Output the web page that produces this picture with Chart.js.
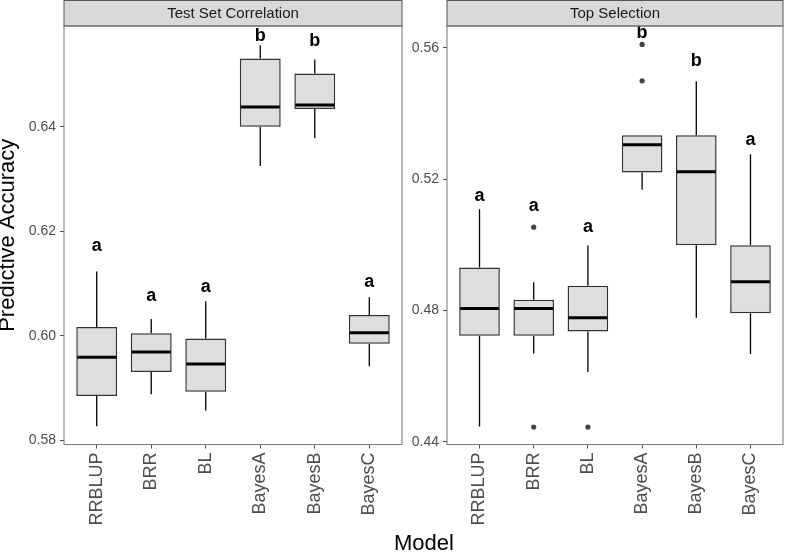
<!DOCTYPE html>
<html>
<head>
<meta charset="utf-8">
<script src="https://cdn.jsdelivr.net/npm/chart.js@4.4.1/dist/chart.umd.min.js"></script>
<style>
  body { margin: 0; background: #fff; font-family: "Liberation Sans", Arial, sans-serif; }
  #page { position: relative; width: 787px; height: 553px; overflow: hidden; }
  #wrap1 { position: absolute; left: 0; top: 0; width: 405px; height: 553px; }
  #wrap2 { position: absolute; left: 405px; top: 0; width: 382px; height: 553px; }
  #xtitle { position: absolute; left: 324px; width: 200px; top: 530px; text-align: center;
            font-size: 22px; line-height: 26px; color: #000; }
</style>
</head>
<body>
<div id="page">
  <div id="wrap1"><canvas id="chart1"></canvas></div>
  <div id="wrap2"><canvas id="chart2"></canvas></div>
  <div id="xtitle">Model</div>
</div>
<script>
// categories (models)
var categories = ["RRBLUP", "BRR", "BL", "BayesA", "BayesB", "BayesC"];

// Test Set Correlation panel
var tscLow  = [0.5827, 0.5888, 0.5857, 0.6325, 0.6378, 0.5942];
var tscQ1   = [0.5885, 0.5931, 0.5893, 0.6400, 0.6434, 0.5985];
var tscMed  = [0.5959, 0.5969, 0.5946, 0.6438, 0.6442, 0.6006];
var tscQ3   = [0.6017, 0.6005, 0.5995, 0.6531, 0.6502, 0.6040];
var tscHigh = [0.6123, 0.6032, 0.6066, 0.6556, 0.6529, 0.6074];
var tscLetters = ["a", "a", "a", "b", "b", "a"];
var tscLetterY = [0.6171, 0.6076, 0.6093, 0.6574, 0.6565, 0.6103];
var tscOutCat = [];
var tscOutY = [];
var tscTicks = [0.58, 0.60, 0.62, 0.64];

// Top Selection panel
var topLow  = [0.4447, 0.4669, 0.4613, 0.5168, 0.4778, 0.4668];
var topQ1   = [0.4723, 0.4723, 0.4736, 0.5221, 0.4999, 0.4792];
var topMed  = [0.4806, 0.4806, 0.4778, 0.5305, 0.5223, 0.4888];
var topQ3   = [0.4931, 0.4833, 0.4876, 0.5334, 0.5334, 0.4999];
var topHigh = [0.5109, 0.4886, 0.4998, 0.5334, 0.5499, 0.5276];
var topLetters = ["a", "a", "a", "b", "b", "a"];
var topLetterY = [0.5150, 0.5117, 0.5054, 0.5645, 0.5559, 0.5321];
var topOutCat = ["BRR", "BRR", "BL", "BayesA", "BayesA"];
var topOutY = [0.5054, 0.4445, 0.4445, 0.5611, 0.5500];
var topTicks = [0.44, 0.48, 0.52, 0.56];

var FONT = '"Liberation Sans", Arial, sans-serif';

// whiskers, medians, letters, strip and panel border
var boxExtras = {
    id: 'boxExtras',
    beforeDatasetsDraw: function(chart) {
        var p = chart.options.plugins.boxExtras;
        var xs = chart.scales.x, ys = chart.scales.y, ctx = chart.ctx;
        ctx.save();
        ctx.strokeStyle = '#000';
        ctx.lineWidth = 1.3;
        for (var i = 0; i < categories.length; i++) {
            var x = xs.getPixelForValue(i + 1);
            ctx.beginPath();
            ctx.moveTo(x, ys.getPixelForValue(p.q3[i]));
            ctx.lineTo(x, ys.getPixelForValue(p.high[i]));
            ctx.moveTo(x, ys.getPixelForValue(p.q1[i]));
            ctx.lineTo(x, ys.getPixelForValue(p.low[i]));
            ctx.stroke();
        }
        ctx.restore();
    },
    afterDatasetsDraw: function(chart) {
        var p = chart.options.plugins.boxExtras;
        var xs = chart.scales.x, ys = chart.scales.y, ctx = chart.ctx;
        var bars = chart.getDatasetMeta(0).data;
        ctx.save();
        for (var i = 0; i < categories.length; i++) {
            var x = xs.getPixelForValue(i + 1);
            var half = bars[i].width / 2;
            var ym = ys.getPixelForValue(p.med[i]);
            ctx.strokeStyle = '#000';
            ctx.lineWidth = 3;
            ctx.beginPath();
            ctx.moveTo(x - half + 1, ym);
            ctx.lineTo(x + half - 1, ym);
            ctx.stroke();
            ctx.fillStyle = '#000';
            ctx.font = 'bold 18px ' + FONT;
            ctx.textAlign = 'center';
            ctx.textBaseline = 'middle';
            ctx.fillText(p.letters[i], x, ys.getPixelForValue(p.letterY[i]));
        }
        ctx.restore();
    },
    afterDraw: function(chart) {
        var p = chart.options.plugins.boxExtras;
        var a = chart.chartArea, ctx = chart.ctx;
        ctx.save();
        ctx.fillStyle = '#d9d9d9';
        ctx.fillRect(a.left, 0.5, a.right - a.left, a.top - 0.5);
        ctx.strokeStyle = '#555';
        ctx.lineWidth = 1;
        ctx.strokeRect(a.left, 0.5, a.right - a.left, a.top - 0.5);
        ctx.strokeStyle = '#777';
        ctx.strokeRect(a.left, a.top, a.right - a.left, a.bottom - a.top);
        ctx.fillStyle = '#1a1a1a';
        ctx.font = '15px ' + FONT;
        ctx.textAlign = 'center';
        ctx.textBaseline = 'middle';
        ctx.fillText(p.strip, (a.left + a.right) / 2, a.top / 2 + 1);
        ctx.restore();
    }
};

function makePanel(canvasId, d) {
    var boxes = categories.map(function(c, i) {
        return { x: i + 1, y: [d.q1[i], d.q3[i]] };
    });
    var outliers = d.outCat.map(function(c, i) {
        return { x: categories.indexOf(c) + 1, y: d.outY[i] };
    });
    return new Chart(document.getElementById(canvasId), {
        type: 'bar',
        data: {
            datasets: [{
                data: boxes,
                backgroundColor: '#dedede',
                borderColor: '#333',
                borderWidth: 1.5,
                borderSkipped: false,
                categoryPercentage: 1,
                barPercentage: 0.75
            }, {
                type: 'scatter',
                data: outliers,
                pointRadius: 2.6,
                pointBackgroundColor: '#444',
                pointBorderWidth: 0
            }]
        },
        plugins: [boxExtras],
        options: {
            responsive: true,
            maintainAspectRatio: false,
            animation: false,
            layout: { padding: { top: 26, right: d.padRight, left: 0, bottom: 0 } },
            plugins: {
                legend: { display: false },
                tooltip: { enabled: false },
                boxExtras: {
                    low: d.low, q1: d.q1, med: d.med, q3: d.q3, high: d.high,
                    letters: d.letters, letterY: d.letterY, strip: d.strip
                }
            },
            scales: {
                x: {
                    type: 'linear',
                    min: 0.4,
                    max: 6.6,
                    offset: false,
                    afterBuildTicks: function(scale) {
                        scale.ticks = categories.map(function(c, i) { return { value: i + 1 }; });
                    },
                    afterFit: function(scale) { scale.height = 108.5; },
                    grid: { offset: false, drawOnChartArea: false, drawTicks: true, tickLength: 4, color: '#4d4d4d' },
                    border: { display: false },
                    ticks: {
                        autoSkip: false,
                        minRotation: 90,
                        maxRotation: 90,
                        padding: 4,
                        color: '#4d4d4d',
                        font: { family: FONT, size: 18 },
                        callback: function(v) { return categories[v - 1]; }
                    }
                },
                y: {
                    min: d.yMin,
                    max: d.yMax,
                    afterBuildTicks: function(scale) {
                        scale.ticks = d.ticks.map(function(v) { return { value: v }; });
                    },
                    afterFit: function(scale) { scale.width = d.axisWidth; },
                    grid: { drawOnChartArea: false, drawTicks: true, tickLength: 4, color: '#4d4d4d' },
                    border: { display: false },
                    ticks: {
                        padding: 4,
                        color: '#4d4d4d',
                        font: { family: FONT, size: 14 },
                        callback: function(v) { return v.toFixed(2); }
                    },
                    title: {
                        display: d.yTitle !== '',
                        text: d.yTitle,
                        color: '#000',
                        font: { family: FONT, size: 22 },
                        padding: { top: -5, bottom: 0 }
                    }
                }
            }
        }
    });
}

document.addEventListener('DOMContentLoaded', function() {
    makePanel('chart1', {
        low: tscLow, q1: tscQ1, med: tscMed, q3: tscQ3, high: tscHigh,
        letters: tscLetters, letterY: tscLetterY, outCat: tscOutCat, outY: tscOutY,
        ticks: tscTicks, yMin: 0.5792, yMax: 0.6593,
        strip: 'Test Set Correlation', yTitle: 'Predictive Accuracy',
        axisWidth: 64, padRight: 3
    });
    makePanel('chart2', {
        low: topLow, q1: topQ1, med: topMed, q3: topQ3, high: topHigh,
        letters: topLetters, letterY: topLetterY, outCat: topOutCat, outY: topOutY,
        ticks: topTicks, yMin: 0.4392, yMax: 0.5667,
        strip: 'Top Selection', yTitle: '',
        axisWidth: 42, padRight: 1
    });
});
</script>
</body>
</html>
